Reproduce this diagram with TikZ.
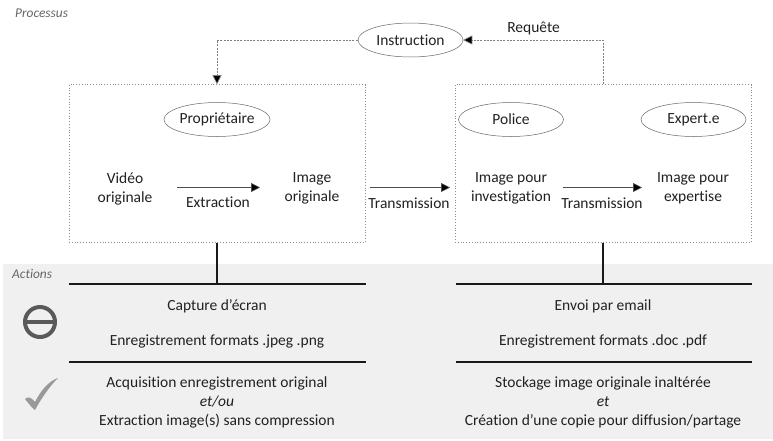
\documentclass[tikz,border=0pt]{standalone}
\usepackage{fontspec}
\setmainfont[Ligatures=NoCommon]{Carlito}
\usetikzlibrary{arrows.meta,shapes.geometric}
\definecolor{txt}{gray}{0.13}
\tikzset{
 x=1pt,y=-1pt,
 lab/.style={inner sep=0pt,align=center,text=txt,font=\fontsize{15.5}{19}\selectfont},
 captxt/.style={inner sep=0pt,text=black!60,font=\fontsize{13.4}{15}\selectfont\itshape},
 role/.style={ellipse,draw=black!60,line width=0.5pt,minimum width=105pt,minimum height=34pt,inner sep=0pt,text=txt,font=\fontsize{15.5}{18}\selectfont},
 dotbox/.style={draw=black!45,line width=0.6pt,dash pattern=on 0.9pt off 1.9pt,inner sep=0pt},
 flow/.style={draw=black!70,line width=0.6pt,-{Triangle[length=9pt,width=9pt,fill=black]}},
 req/.style={draw=black!50,line width=0.6pt,dash pattern=on 2pt off 1.3pt,-{Triangle[length=9pt,width=9pt,fill=black]}},
 hrule/.style={draw=black!90,line width=1.1pt},
}
\begin{document}
\begin{tikzpicture}
\useasboundingbox (0,0) rectangle (773,440);
\fill[white] (0,0) rectangle (773,440);
\fill[black!6] (3,264) rectangle (773,439);
\node[captxt,anchor=west] (proc) at (15,13.5) {Processus};
\node[captxt,anchor=west] (act) at (12,273.5) {Actions};
\node[dotbox,minimum width=296pt,minimum height=158pt] (boxa) at (217,163.5) {};
\node[dotbox,minimum width=296pt,minimum height=158pt] (boxb) at (603,163.5) {};
\node[role,minimum width=105pt] (instr) at (410.5,40) {Instruction};
\node[role] (prop) at (217,119.5) {Propriétaire};
\node[role] (pol) at (511,119.5) {Police};
\node[role] (exp) at (693.5,119.5) {Expert.e};
\node[lab] (vid) at (125,188.5) {Vidéo\\originale};
\node[lab] (imo) at (312,188.5) {Image\\originale};
\node[lab] (imi) at (511,188.5) {Image pour\\investigation};
\node[lab] (ime) at (693,188.5) {Image pour\\expertise};
\coordinate (f1s) at (177,187.5); \coordinate (f1e) at (260,187.5);
\coordinate (f2s) at (370,187.5); \coordinate (f2e) at (450,187.5);
\coordinate (f3s) at (563,187.5); \coordinate (f3e) at (642,187.5);
\draw[flow] (f1s) -- (f1e);
\draw[flow] (f2s) -- (f2e);
\draw[flow] (f3s) -- (f3e);
\node[lab] (l1) at (218,202) {Extraction};
\node[lab] (l2) at (409,203.5) {Transmission};
\node[lab] (l3) at (602,203) {Transmission};
\draw[req] (instr.west) -| (boxa.north);
\draw[req] (boxb.north) |- (instr.east);
\node[lab] (rq) at (533.5,29) {Requête};
\coordinate (ra) at (217,284); \coordinate (rb) at (603,284);
\draw[hrule] (boxa.south) -- (ra);
\draw[hrule] (boxb.south) -- (rb);
\draw[hrule] (69,284) -- (366,284);
\draw[hrule] (456,284) -- (752,284);
\draw[hrule] (69,362) -- (366,362);
\draw[hrule] (456,362) -- (752,362);
\node[lab] at (217,306) {Capture d’écran};
\node[lab] at (217,341) {Enregistrement formats .jpeg .png};
\node[lab] at (603,306) {Envoi par email};
\node[lab] at (603,341) {Enregistrement formats .doc .pdf};
\node[lab] at (217,383.5) {Acquisition enregistrement original};
\node[lab] at (217,402) {\itshape et/ou};
\node[lab] at (217,421) {Extraction image(s) sans compression};
\node[lab] at (603,383.5) {Stockage image originale inaltérée};
\node[lab] at (603,402) {\itshape et};
\node[lab] at (603,421) {Création d’une copie pour diffusion/partage};
\draw[black!65,line width=4pt] (40,322) circle (15);
\draw[black!65,line width=3.6pt] (24,322) -- (56,322);
\fill[black!40] (25,399) .. controls (28,396) and (31,397) .. (35,402) .. controls (41,390) and (49,381) .. (58,378) .. controls (49,387) and (41,399) .. (35,410) .. controls (33,409) and (29,404) .. (25,399) -- cycle;
\end{tikzpicture}
\end{document}
